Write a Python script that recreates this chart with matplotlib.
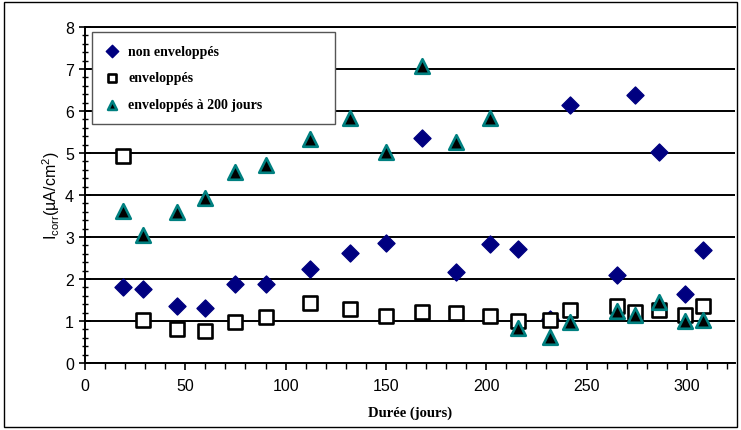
import numpy as np
import matplotlib.pyplot as plt
from matplotlib.patches import Rectangle
from matplotlib.ticker import MultipleLocator

plt.rcParams['font.family'] = ['Liberation Sans', 'DejaVu Sans']

# durée (jours)
jours = [19, 29, 46, 60, 75, 90, 112, 132, 150, 168, 185, 202, 216, 232, 242, 265, 274, 286, 299, 308]

# Icorr (µA/cm²)
non_env = [1.80, 1.76, 1.35, 1.30, 1.88, 1.88, 2.24, 2.62, 2.85, 5.36,
           2.17, 2.83, 2.71, 1.05, 6.14, 2.10, 6.38, 5.02, 1.64, 2.70]
env = [4.92, 1.03, 0.81, 0.77, 0.98, 1.10, 1.43, 1.29, 1.13, 1.22,
       1.19, 1.13, 1.01, 1.03, 1.27, 1.36, 1.22, 1.27, 1.15, 1.36]
env_200 = [3.63, 3.05, 3.59, 3.92, 4.54, 4.71, 5.33, 5.83, 5.02, 7.08,
           5.27, 5.83, 0.83, 0.61, 0.97, 1.25, 1.14, 1.46, 1.01, 1.03]

fig = plt.figure(figsize=(7.41, 4.31), dpi=100)
ax = fig.add_axes([85 / 741, 67 / 431, 650 / 741, 336 / 431])

# cadre extérieur
fig.patches.append(Rectangle((4 / 741, 3 / 431), 733 / 741, 425 / 431,
                             transform=fig.transFigure, fill=False,
                             edgecolor='black', linewidth=1.0))

ax.scatter(jours, non_env, marker='D', s=75, color='#000080',
           edgecolors='#000080', label='non enveloppés', zorder=3)
ax.scatter(jours, env, marker='s', s=115, facecolors='white',
           edgecolors='black', linewidths=1.9, label='enveloppés', zorder=3)
ax.scatter(jours, env_200, marker='^', s=110, color='black',
           edgecolors='#008080', linewidths=1.9,
           label='enveloppés à 200 jours', zorder=4)

ax.set_xlim(0, 324)
ax.set_ylim(0, 8)
ax.xaxis.set_major_locator(MultipleLocator(50))
ax.xaxis.set_minor_locator(MultipleLocator(10))
ax.yaxis.set_major_locator(MultipleLocator(1))
ax.yaxis.set_minor_locator(MultipleLocator(0.2))
ax.tick_params(axis='x', which='major', direction='out', length=5, width=1.2,
               labelsize=11.5, colors='black', pad=6)
ax.tick_params(axis='x', which='minor', direction='out', length=4, width=1)
ax.tick_params(axis='y', which='major', direction='inout', length=8, width=1.2,
               labelsize=11.5, pad=4)
ax.tick_params(axis='y', which='minor', direction='inout', length=5, width=1)

ax.grid(axis='y', which='major', color='black', linewidth=1.4)
ax.set_axisbelow(True)
ax.spines['right'].set_visible(False)
ax.spines['top'].set_linewidth(1.4)
ax.spines['left'].set_linewidth(1.4)
ax.spines['bottom'].set_linewidth(1.4)

ax.set_xlabel('Durée (jours)', fontfamily='Liberation Serif', fontweight='bold',
              fontsize=10.5, labelpad=9)
ax.set_ylabel(r'I$_{\mathregular{corr}}$(µA/cm$^{\mathregular{2}}$)', fontsize=11.5, labelpad=2)

leg = ax.legend(loc='upper left', bbox_to_anchor=(0.011, 0.0, 0.374, 0.985),
                mode='expand', frameon=True,
                fancybox=False, edgecolor='#555555', framealpha=1,
                prop={'family': 'Liberation Serif', 'weight': 'bold', 'size': 10},
                handletextpad=0.7, labelspacing=1.0, borderpad=0.9,
                handlelength=1.0, borderaxespad=0.0)
leg.get_frame().set_linewidth(1.0)
for h in leg.legend_handles:
    h.set_sizes([40])

fig.savefig('out.png', dpi=100)
